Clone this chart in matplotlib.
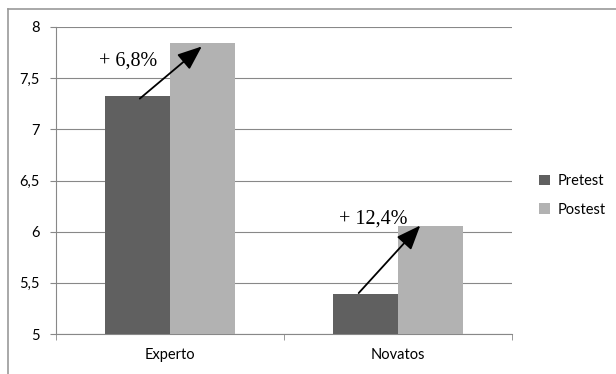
import matplotlib.pyplot as plt
import numpy as np

grupos = ["Experto", "Novatos"]
pretest = [7.33, 5.39]
postest = [7.84, 6.06]
mejoras = ["+ 6,8%", "+ 12,4%"]
yticks = [5, 5.5, 6, 6.5, 7, 7.5, 8]
ytick_labels = ["5", "5,5", "6", "6,5", "7", "7,5", "8"]

c_pre = "#606060"
c_post = "#b2b2b2"
w = 0.285

fig = plt.figure(figsize=(6.16, 3.74), dpi=100)
ax = fig.add_axes([56 / 616, 1 - 334 / 374, (512 - 56) / 616, (334 - 27) / 374])

x = np.arange(len(grupos))
ax.bar(x - w / 2, pretest, w, bottom=0, color=c_pre, label="Pretest", zorder=3)
ax.bar(x + w / 2, postest, w, bottom=0, color=c_post, label="Postest", zorder=3)

ax.set_xlim(-0.5, 1.5)
ax.set_ylim(5, 8)
ax.set_yticks(yticks)
ax.set_yticklabels(ytick_labels, fontfamily="Lato", fontsize=10.5)
ax.set_xticks(x)
ax.set_xticklabels(grupos, fontfamily="Lato", fontsize=10.5)
ax.set_xticks([-0.5, 0.5, 1.5], minor=True)
ax.tick_params(axis="x", which="major", length=0, pad=10)
ax.tick_params(axis="x", which="minor", length=4, color="#888888")
ax.tick_params(axis="y", length=4, color="#888888", pad=8)
ax.grid(axis="y", color="#888888", linewidth=0.8, zorder=0)
for s in ["top", "right"]:
    ax.spines[s].set_visible(False)
ax.spines["left"].set_color("#888888")
ax.spines["bottom"].set_color("#888888")

# flechas de mejora
offs = [(0.01, -0.03, -0.003, -0.03), (-0.03, 0.01, -0.045, 0.0)]
for i in range(len(grupos)):
    dx0, dy0, dx1, dy1 = offs[i]
    x0, y0 = x[i] - w / 2 + dx0, pretest[i] + dy0
    x1, y1 = x[i] + w / 2 + dx1, postest[i] + dy1
    ax.annotate("", xy=(x1, y1), xytext=(x0, y0),
                arrowprops=dict(arrowstyle="-|>,head_length=1.5,head_width=0.6",
                                color="black", lw=1.3, shrinkA=0, shrinkB=0),
                zorder=5)
ax.text(-0.31, 7.67, mejoras[0], fontfamily="Liberation Serif", fontsize=14.5,
        ha="left", va="center", zorder=6)
ax.text(0.74, 6.12, mejoras[1], fontfamily="Liberation Serif", fontsize=14.5,
        ha="left", va="center", zorder=6)

leg = fig.legend(loc="upper left", bbox_to_anchor=(526 / 616, 1 - 161 / 374),
                 frameon=False, prop={"family": "Lato", "size": 10.5},
                 handlelength=0.75, handleheight=0.75, handletextpad=0.5,
                 labelspacing=1.0)

# marco exterior (solo arriba e izquierda visibles)
fig.add_artist(plt.Line2D([8 / 616, 1], [1 - 9 / 374, 1 - 9 / 374], color="#999999", lw=1.2))
fig.add_artist(plt.Line2D([8 / 616, 8 / 616], [0, 1 - 9 / 374], color="#999999", lw=1.2))

fig.savefig("out.png", dpi=100)
